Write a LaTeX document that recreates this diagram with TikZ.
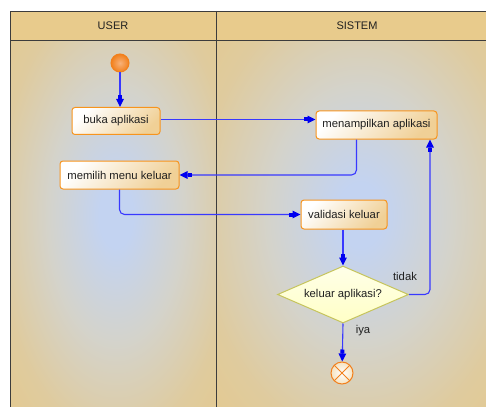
\documentclass[tikz,border=0pt]{standalone}
\usepackage{fontspec}
\setmainfont{Liberation Sans}
\usetikzlibrary{shapes.geometric,arrows.meta,calc}

\definecolor{framegray}{HTML}{3C3C3C}
\definecolor{headtan}{HTML}{E8CB8C}
\definecolor{lanetan}{HTML}{E6C98A}
\definecolor{laneouter}{HTML}{DFCB9E}
\definecolor{lanemid}{HTML}{D4D3CB}
\definecolor{laneblue}{HTML}{C3D3F1}
\definecolor{actborder}{HTML}{F7941D}
\definecolor{acttan}{HTML}{F0D096}
\definecolor{decborder}{HTML}{C6C45C}
\definecolor{decfill}{HTML}{FFFFC6}
\definecolor{flowblue}{HTML}{3838FF}
\definecolor{headblue}{HTML}{0000F0}
\definecolor{startin}{HTML}{F7B27A}
\definecolor{startout}{HTML}{F2801C}
\definecolor{txt}{HTML}{202020}

% soft bluish glow in the middle of each lane
\pgfdeclareradialshading{lanefill}{\pgfpoint{0bp}{0bp}}{%
  color(0bp)=(laneblue); color(4bp)=(laneblue); color(16bp)=(lanemid);
  color(28bp)=(laneouter); color(40bp)=(lanetan); color(50bp)=(lanetan)}

\tikzset{
  act/.style={draw=actborder, line width=1pt, rounded corners=3pt,
    top color=white, bottom color=acttan, shading angle=45,
    text=txt, font=\fontsize{11.3}{13}\selectfont, inner sep=2pt},
  decision/.style={diamond, draw=decborder, line width=1pt,
    top color=decfill!40!white, bottom color=decfill, aspect=2.3,
    inner sep=0pt, text=txt, font=\fontsize{11.3}{13}\selectfont},
  startdot/.style={circle, draw=startout, line width=1pt, minimum size=18pt,
    inner sep=0pt, inner color=startin, outer color=startout},
  enddot/.style={circle, draw=startout, line width=1pt, minimum size=22pt,
    inner sep=0pt, inner color=white, outer color=acttan!60!white,
    path picture={
      \draw[startout, line width=1pt]
        (path picture bounding box.north west) -- (path picture bounding box.south east)
        (path picture bounding box.north east) -- (path picture bounding box.south west);}},
  flow/.style={draw=flowblue, line width=1.1pt, rounded corners=5pt,
    -{Rectangle[length=4pt,width=4pt,sep=0pt,fill=headblue,color=headblue]
      Triangle[length=8pt,width=7.5pt,fill=headblue,color=headblue]}},
  lanehead/.style={text=txt, font=\fontsize{11}{13}\selectfont},
  lbl/.style={text=txt, font=\fontsize{11.3}{13}\selectfont, inner sep=1pt}
}

\begin{document}
\begin{tikzpicture}[x=1pt,y=-1pt]
\useasboundingbox (0,0) rectangle (486,406);

% swimlanes
\begin{scope}
  \clip (0,0) rectangle (486,406);
  \fill[white] (0,0) rectangle (486,406);
  \begin{scope}
    \clip (10,40) rectangle (216,430);
    \shade[shading=lanefill] (10,15) rectangle (222,415);
  \end{scope}
  \begin{scope}
    \clip (216,40) rectangle (500,430);
    \shade[shading=lanefill] (216,15) rectangle (504,415);
  \end{scope}
  \fill[headtan] (10,11) rectangle (500,40);
  \draw[framegray, line width=0.9pt] (10,430) -- (10,11) -- (500,11);
  \draw[framegray, line width=0.9pt] (10,40) -- (500,40);
  \draw[framegray, line width=0.9pt] (216,11) -- (216,430);
\end{scope}
\node[lanehead] (huser) at (113,25.5) {USER};
\node[lanehead] (hsis) at (357,25.5) {SISTEM};

% activities
\node[startdot] (start) at (120,63) {};
\node[act, minimum width=88pt, minimum height=27pt] (buka) at (116,121) {buka aplikasi};
\node[act, minimum width=121pt, minimum height=28pt] (men) at (376.5,125) {menampilkan aplikasi};
\node[act, minimum width=119pt, minimum height=28pt] (mem) at (119.5,175) {memilih menu keluar};
\node[act, minimum width=86pt, minimum height=29pt] (val) at (344,214.5) {validasi keluar};
\node[decision, minimum width=131pt, minimum height=57pt] (dec) at (343,294.5) {keluar aplikasi?};
\node[enddot] (stop) at (342,373) {};

% guards
\node[lbl] (tidak) at (405,276) {tidak};
\node[lbl] (iya) at (363,331) {iya};

% control flow
\draw[flow] (start) -- (start |- buka.north);
\draw[flow] ([yshift=1.5pt]buka.east) -- ([yshift=1.5pt]buka.east -| men.west);
\draw[flow] ([xshift=-20pt]men.south) |- (mem.east);
\draw[flow] (mem.south) |- (val.west);
\draw[flow] (dec.north |- val.south) -- (dec.north);
\draw[flow] (dec.east) -| ([xshift=53.5pt]men.south);
\draw[flow] (dec.south) -- (stop);
\end{tikzpicture}
\end{document}
